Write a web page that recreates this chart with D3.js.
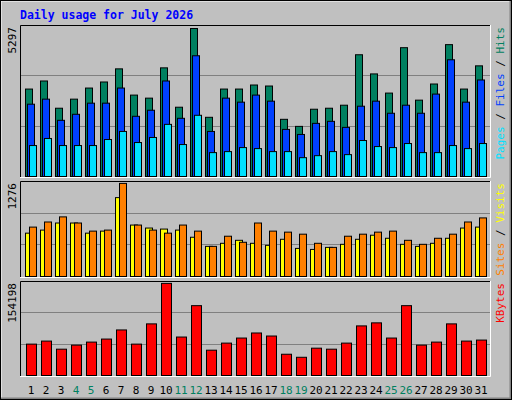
<!DOCTYPE html>
<html><head><meta charset="utf-8">
<script src="https://cdn.jsdelivr.net/npm/d3@7"></script>
<style>body{margin:0;background:#fff}text{font-family:"DejaVu Sans Mono",monospace}</style>
</head><body><svg id="chart"></svg>
<script>
// Data
const days = d3.range(1, 32);
const weekends = [4, 5, 11, 12, 18, 19, 25, 26];
const hits = [3130,3419,2444,2769,3166,3383,3853,2914,2805,3889,2480,5297,2119,3130,3130,3275,3239,2047,1794,2408,2444,2552,4358,3672,2986,4611,2733,3311,4720,3130,3961];
const files = [2588,2769,2011,2227,2625,2625,3166,2155,2372,3419,2083,4322,1613,2805,2661,2914,2697,1686,1505,1902,1975,1758,2516,2697,2264,2552,2264,2950,4178,2661,3455];
const pages = [1108,1361,1108,1108,1108,1324,1613,1216,1397,1866,1144,2191,855,891,1035,999,891,891,674,746,891,783,1288,1072,1035,1180,855,855,1108,999,1180];
const visits = [594,636,733,733,594,622,1081,705,664,650,636,538,413,455,496,455,427,510,385,371,399,441,510,566,524,441,413,455,524,664,677];
const sites = [677,747,817,733,622,636,1276,705,636,594,705,622,413,552,469,733,622,608,580,455,399,552,580,608,622,496,441,524,580,747,803];
const kbytes = [52526,57610,44054,50832,55915,60998,76248,52526,86414,154198,64387,116914,42360,54221,62693,71165,66082,35582,30499,45749,44054,54221,83026,88109,62693,116914,50832,55915,86414,57610,59304];

const width = 512, height = 400;
const svg = d3.select("#chart").attr("width", width).attr("height", height);

// frame
svg.append("rect").attr("width", width).attr("height", height).attr("fill", "#c0c0c0");
svg.append("path").attr("d", "M0,400V0H512").attr("fill", "none").attr("stroke", "#fff").attr("stroke-width", 3);
svg.append("path").attr("d", "M1,399H511V1").attr("fill", "none").attr("stroke", "#808080").attr("stroke-width", 3);
svg.append("rect").attr("x", 0.5).attr("y", 0.5).attr("width", 511).attr("height", 399).attr("fill", "none").attr("stroke", "#000");

svg.append("text").attr("x", 20).attr("y", 19).attr("fill", "#0000ff")
    .attr("font-size", 11.5).attr("font-weight", "bold").text("Daily usage for July 2026");

const x = d3.scaleLinear().domain([1, 31]).range([25, 475]);

function panel(top, bottom, max, label, series) {
    svg.append("rect").attr("x", 20).attr("y", top).attr("width", 471).attr("height", bottom - top + 1)
        .attr("fill", "#c0c0c0");
    svg.append("path").attr("d", `M20.5,${bottom + 1}V${top + 0.5}H491`).attr("stroke", "#000").attr("fill", "none");
    svg.append("path").attr("d", `M20,${bottom + 1.5}H490.5V${top}`).attr("stroke", "#fff").attr("fill", "none");
    const y = d3.scaleLinear().domain([0, max]).range([bottom, bottom - (bottom - top) * 0.98]);
    const h = bottom - top;
    [1 / 3, 2 / 3].forEach(f => svg.append("line").attr("x1", 21).attr("x2", 490)
        .attr("y1", Math.round(bottom - h * f) + 0.5).attr("y2", Math.round(bottom - h * f) + 0.5)
        .attr("stroke", "#808080"));
    series.forEach(s => {
        svg.append("g").selectAll("rect").data(s.values).join("rect")
            .attr("x", (d, i) => x(i + 1) + s.dx + 0.5)
            .attr("y", d => y(d) + 0.5)
            .attr("width", s.w)
            .attr("height", d => bottom - y(d))
            .attr("fill", s.color).attr("stroke", "#000");
    });
    svg.append("text").attr("transform", `translate(16,${top + 2}) rotate(-90)`)
        .attr("text-anchor", "end").attr("font-size", 11).text(max);
    const t = svg.append("text").attr("transform", `translate(504,${top + 2}) rotate(-90)`)
        .attr("text-anchor", "end").attr("font-size", 11);
    label.forEach((l, i) => {
        if (i) t.append("tspan").attr("fill", "#000").text(" / ");
        t.append("tspan").attr("fill", l[1]).text(l[0]);
    });
}

panel(25, 176, 5297, [["Pages", "#00e0ff"], ["Files", "#0040ff"], ["Hits", "#008060"]], [
    { values: hits, dx: 0, w: 7, color: "#008060" },
    { values: files, dx: 2, w: 7, color: "#0040ff" },
    { values: pages, dx: 4, w: 7, color: "#00e0ff" }
]);
panel(181, 276, 1276, [["Sites", "#ff8000"], ["Visits", "#ffff00"]], [
    { values: visits, dx: 0, w: 7, color: "#ffff00" },
    { values: sites, dx: 4, w: 7, color: "#ff8000" }
]);
panel(281, 375, 154198, [["KBytes", "#ff0000"]], [
    { values: kbytes, dx: 1, w: 10, color: "#ff0000" }
]);

svg.append("g").selectAll("text").data(days).join("text")
    .attr("x", d => x(d) + 6).attr("y", 394).attr("text-anchor", "middle").attr("font-size", 11)
    .attr("fill", d => weekends.includes(d) ? "#008060" : "#000").text(d => d);
</script></body></html>
